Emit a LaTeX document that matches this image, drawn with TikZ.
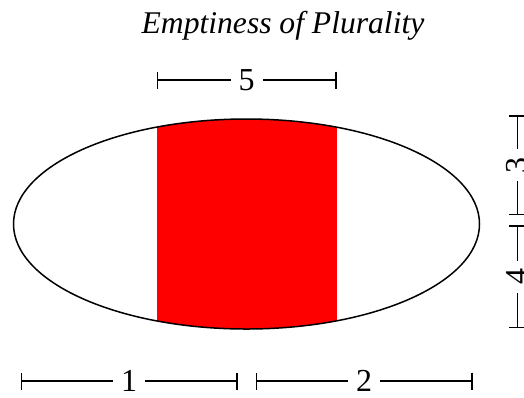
\documentclass[tikz,border=0pt]{standalone}
\usepackage{fontspec}
\setmainfont{Liberation Serif}
\usetikzlibrary{arrows.meta}
\begin{document}
\begin{tikzpicture}[x=1pt,y=-1pt,
  dimline/.style={line width=1.5pt,{Bar[width=17pt,line width=1.5pt]}-{Bar[width=17pt,line width=1.5pt]}},
  dimlabel/.style={fill=white,inner xsep=8pt,inner ysep=0pt,text depth=0pt,font=\fontsize{32}{36}\selectfont}]
\useasboundingbox (0,0) rectangle (524,397);
\node[anchor=base,font=\fontsize{31.6}{36}\selectfont\itshape] (title) at (283,33) {Emptiness of Plurality};
\begin{scope}
  \clip (246.5,224) ellipse [x radius=233, y radius=105];
  \fill[red] (156.7,100) rectangle (336.7,340);
\end{scope}
\draw[line width=1.5pt] (246.5,224) ellipse [x radius=233, y radius=105];
% top dimension 5
\coordinate (a5) at (156.7,80);
\coordinate (b5) at (336.7,80);
\draw[dimline] (a5) -- (b5) node[midway,dimlabel] (l5) {5};
% bottom dimensions
\coordinate (a1) at (20.7,381);
\coordinate (b1) at (237.7,381);
\draw[dimline] (a1) -- (b1) node[midway,dimlabel] (l1) {1};
\coordinate (a2) at (255.7,381);
\coordinate (b2) at (472.7,381);
\draw[dimline] (a2) -- (b2) node[midway,dimlabel] (l2) {2};
% right dimensions
\coordinate (a3) at (517.3,215);
\coordinate (b3) at (517.3,115);
\draw[dimline] (a3) -- (b3) node[midway,dimlabel,rotate=90] (l3) {3};
\coordinate (a4) at (517.3,328);
\coordinate (b4) at (517.3,225);
\draw[dimline] (a4) -- (b4) node[midway,dimlabel,rotate=90] (l4) {4};
\end{tikzpicture}
\end{document}
